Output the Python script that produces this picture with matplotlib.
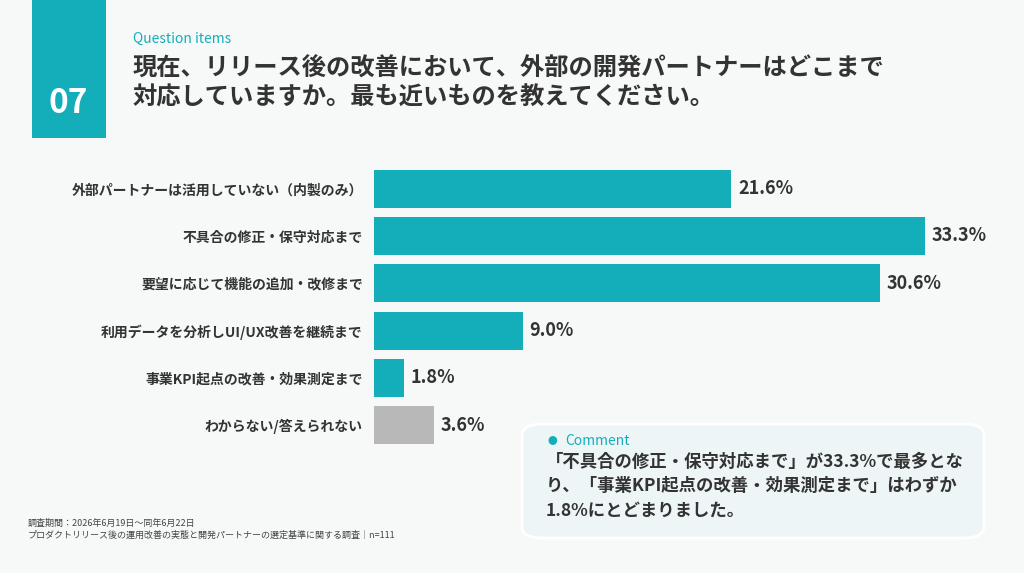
import matplotlib.pyplot as plt
from matplotlib.patches import FancyBboxPatch, Rectangle

plt.rcParams['font.family'] = ['Noto Sans CJK JP', 'DejaVu Sans']

categories = ['外部パートナーは活用していない（内製のみ）', '不具合の修正・保守対応まで',
              '要望に応じて機能の追加・改修まで', '利用データを分析しUI/UX改善を継続まで',
              '事業KPI起点の改善・効果測定まで', 'わからない/答えられない']
values = [21.6, 33.3, 30.6, 9.0, 1.8, 3.6]
colors = ['#14AEBB'] * 5 + ['#B8B8B8']

W, H = 1024, 573
fig = plt.figure(figsize=(W / 100, H / 100), dpi=100)
fig.patch.set_facecolor('#F7F8F8')

def fx(px):
    return px / W

def fy(py):
    return 1 - py / H

# number block
fig.patches.append(Rectangle((fx(32), fy(138)), fx(74), 138 / H, transform=fig.transFigure,
                             facecolor='#14AEBB', edgecolor='none'))
fig.text(fx(68), fy(103), '07', color='white', fontsize=24, fontweight='bold', ha='center', va='center')
fig.text(fx(133), fy(39), 'Question items', color='#14AEBB', fontsize=10, va='center')
fig.text(fx(133), fy(83), '現在、リリース後の改善において、外部の開発パートナーはどこまで\n対応していますか。最も近いものを教えてください。',
         color='#333333', fontsize=17.5, fontweight='bold', va='center', linespacing=1.25)

# bars
ax = fig.add_axes([fx(374), fy(449), fx(925) - fx(374), 284 / H])
ax.set_facecolor('none')
y = list(range(len(values)))
ax.barh(y, values, height=0.8, color=colors)
ax.set_xlim(0, 33.3)
ax.set_ylim(len(values) - 0.5, -0.5)
for s in ax.spines.values():
    s.set_visible(False)
ax.set_xticks([])
ax.set_yticks(y)
ax.set_yticklabels(categories, fontsize=10, fontweight='bold', color='#333333')
ax.tick_params(axis='y', length=0, pad=8)
for yi, v in zip(y, values):
    ax.text(v + 0.4, yi, f'{v:.1f}%', va='center', ha='left', fontsize=13,
            fontweight='bold', color='#333333', clip_on=False)

# comment box
fig.patches.append(FancyBboxPatch((fx(522), fy(538)), fx(462), 114 / H, transform=fig.transFigure,
                                  boxstyle='round,pad=0,rounding_size=0.02',
                                  facecolor='#EEF5F6', edgecolor='#FFFFFF', linewidth=2))
fig.text(fx(552), fy(441), '●', color='#14AEBB', fontsize=7, va='center', ha='center')
fig.text(fx(565), fy(441), 'Comment', color='#14AEBB', fontsize=10, va='center')
fig.text(fx(546), fy(486), '「不具合の修正・保守対応まで」が33.3%で最多とな\nり、「事業KPI起点の改善・効果測定まで」はわずか\n1.8%にとどまりました。',
         color='#333333', fontsize=12.5, fontweight='bold', va='center', linespacing=1.45)

fig.text(fx(28), fy(523), '調査期間：2026年6月19日～同年6月22日', fontsize=6.5, color='#444444', va='center')
fig.text(fx(28), fy(535), 'プロダクトリリース後の運用改善の実態と開発パートナーの選定基準に関する調査｜n=111',
         fontsize=6.5, color='#444444', va='center')

fig.savefig('out.png', dpi=100, facecolor=fig.get_facecolor())
